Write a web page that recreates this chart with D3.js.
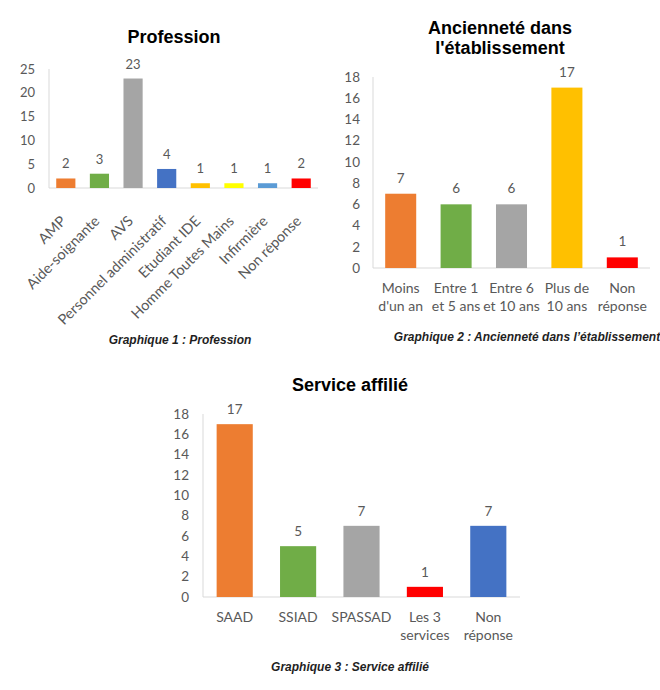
<!DOCTYPE html>
<html><head><meta charset="utf-8">
<script src="https://cdn.jsdelivr.net/npm/d3@7"></script>
<style>body{margin:0;background:#fff}</style>
</head><body>
<script>
// ---- Data ----
const professionCats = ["AMP","Aide-soignante","AVS","Personnel administratif","Etudiant IDE","Homme Toutes Mains","Infirmière","Non réponse"];
const professionVals = [2,3,23,4,1,1,1,2];
const professionColors = ["#ED7D31","#70AD47","#A5A5A5","#4472C4","#FFC000","#FFFF00","#5B9BD5","#FF0000"];
const professionTicks = [0,5,10,15,20,25];

const ancienneteCats = [["Moins","d'un an"],["Entre 1","et 5 ans"],["Entre 6","et 10 ans"],["Plus de","10 ans"],["Non","réponse"]];
const ancienneteVals = [7,6,6,17,1];
const ancienneteColors = ["#ED7D31","#70AD47","#A5A5A5","#FFC000","#FF0000"];
const ancienneteTicks = [0,2,4,6,8,10,12,14,16,18];

const serviceCats = [["SAAD"],["SSIAD"],["SPASSAD"],["Les 3","services"],["Non","réponse"]];
const serviceVals = [17,5,7,1,7];
const serviceColors = ["#ED7D31","#70AD47","#A5A5A5","#FF0000","#4472C4"];
const serviceTicks = [0,2,4,6,8,10,12,14,16,18];

const svg = d3.select("body").append("svg").attr("width",660).attr("height",690);
const FONT = "Lato, 'Open Sans', sans-serif";
const TXT = "#595959";

function barChart(o){
  const g = svg.append("g");
  const x = d3.scaleBand().domain(d3.range(o.vals.length)).range([o.x0,o.x1]).paddingInner(o.pad).paddingOuter(o.pad/2);
  const y = d3.scaleLinear().domain([0,o.max]).range([o.y0,o.y1]);
  // axes lines
  g.append("line").attr("x1",o.x0).attr("x2",o.x0).attr("y1",y(o.max)).attr("y2",y(0)).attr("stroke","#D9D9D9");
  g.append("line").attr("x1",o.x0).attr("x2",o.x1).attr("y1",y(0)).attr("y2",y(0)).attr("stroke","#D9D9D9");
  // y ticks
  const ya = d3.axisLeft(y).tickValues(o.ticks).tickSize(0).tickPadding(o.tickPad);
  const yg = g.append("g").attr("transform",`translate(${o.x0},0)`).call(ya);
  yg.select(".domain").remove();
  yg.selectAll("text").attr("font-family",FONT).attr("font-size",o.tickFont).attr("fill",TXT);
  // bars
  g.selectAll("rect.bar").data(o.vals).join("rect")
    .attr("x",(d,i)=>x(i)).attr("width",x.bandwidth())
    .attr("y",d=>y(d)).attr("height",d=>y(0)-y(d))
    .attr("fill",(d,i)=>o.colors[i]);
  // data labels
  g.selectAll("text.lab").data(o.vals).join("text")
    .attr("x",(d,i)=>x(i)+x.bandwidth()/2).attr("y",d=>y(d)-o.labGap)
    .attr("text-anchor","middle").attr("font-family",FONT).attr("font-size",o.tickFont).attr("fill",TXT)
    .text(d=>d);
  // category labels
  if(o.rotate){
    g.selectAll("text.cat").data(o.cats).join("text")
      .attr("transform",(d,i)=>`translate(${x(i)+x.bandwidth()/2+1},${y(0)+34}) rotate(-45)`)
      .attr("text-anchor","end").attr("font-family",FONT).attr("font-size",o.catFont).attr("fill",TXT)
      .text(d=>d);
  } else {
    o.cats.forEach((lines,i)=>{
      lines.forEach((l,j)=>{
        g.append("text").attr("x",x(i)+x.bandwidth()/2).attr("y",y(0)+25+j*18)
          .attr("text-anchor","middle").attr("font-family",FONT).attr("font-size",o.catFont).attr("fill",TXT).text(l);
      });
    });
  }
  // title
  o.title.forEach((t,j)=>{
    svg.append("text").attr("x",o.tx).attr("y",o.ty+j*20).attr("text-anchor","middle")
      .attr("font-family","'Liberation Sans', Arial, sans-serif").attr("font-weight","bold").attr("font-size",18).attr("fill","#000").text(t);
  });
  // caption
  svg.append("text").attr("x",o.cx).attr("y",o.cy).attr("text-anchor","middle")
    .attr("font-family","'Liberation Sans', Arial, sans-serif").attr("font-weight","bold").attr("font-style","italic")
    .attr("font-size",12).attr("fill","#1f1f1f").text(o.caption);
}

barChart({cats:professionCats, vals:professionVals, colors:professionColors, ticks:professionTicks, max:25,
  x0:49, x1:318, y0:188, y1:69, pad:0.43, tickPad:14, tickFont:13, catFont:14.5, labGap:10, rotate:true,
  title:["Profession"], tx:174, ty:43, caption:"Graphique 1 : Profession", cx:180, cy:344});

barChart({cats:ancienneteCats, vals:ancienneteVals, colors:ancienneteColors, ticks:ancienneteTicks, max:18,
  x0:373, x1:650, y0:268, y1:77, pad:0.44, tickPad:13, tickFont:13.5, catFont:14, labGap:11, rotate:false,
  title:["Ancienneté dans","l'établissement"], tx:500, ty:34, caption:"Graphique 2 : Ancienneté dans l’établissement", cx:527, cy:341});

barChart({cats:serviceCats, vals:serviceVals, colors:serviceColors, ticks:serviceTicks, max:18,
  x0:203, x1:520, y0:597, y1:414, pad:0.43, tickPad:14, tickFont:13.5, catFont:14, labGap:10, rotate:false,
  title:["Service affilié"], tx:350, ty:391, caption:"Graphique 3 : Service affilié", cx:350, cy:671});
</script>
</body></html>
